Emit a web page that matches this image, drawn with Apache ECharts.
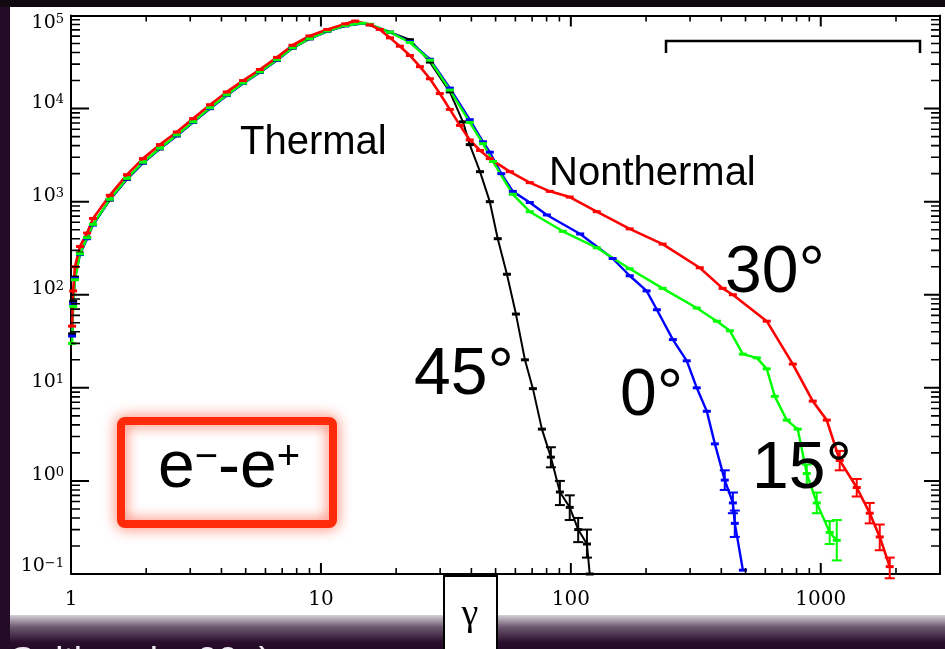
<!DOCTYPE html>
<html>
<head>
<meta charset="utf-8">
<script src="https://cdn.jsdelivr.net/npm/echarts@6/dist/echarts.min.js"></script>
<style>
  html, body { margin: 0; padding: 0; background: #240c26; }
  #chart { width: 945px; height: 649px; }
</style>
</head>
<body>
<div id="chart"></div>
<script>
// Particle spectra dN/dγ of pair-plasma shocks at four field inclinations.

// axis ranges and tick labels
const xRange = [1, 3000];
const yRange = [0.1, 1e5];
const xTickLabels = ['1', '10', '100', '1000'];
const yTickSup = { '-1': '\u22121', '0': '0', '1': '1', '2': '2', '3': '3', '4': '4', '5': '5' };

// [gamma, N] per inclination angle
const curve45 = [
  [1.01, 38], [1.02, 85], [1.037, 155], [1.086, 280], [1.16, 410], [1.225, 570],
  [1.43, 1040], [1.675, 1740], [1.94, 2600], [2.27, 3700], [2.65, 5100], [3.08, 7100],
  [3.6, 10000], [4.2, 13800], [4.88, 18600], [5.7, 24500], [6.67, 33100], [7.7, 44700],
  [9.0, 56200], [10.6, 67600], [12.5, 77600], [14.6, 82000], [15.7, 79400], [18.9, 66100],
  [22.7, 55000], [27.3, 31600], [32.8, 15100], [37, 7200], [39.4, 4100], [43.3, 2100],
  [47.4, 1000], [51, 400], [55.5, 166], [60.3, 62], [65.5, 20], [70.5, 9.8],
  [76.6, 3.6], [83.2, 1.8], [90.4, 0.76], [99, 0.52], [107, 0.30], [116, 0.21], [119, 0.10]
];
const curve0 = [
  [1.01, 36], [1.02, 80], [1.037, 150], [1.086, 270], [1.16, 400], [1.225, 560],
  [1.43, 1050], [1.675, 1750], [1.94, 2600], [2.27, 3700], [2.65, 5100], [3.08, 7100],
  [3.6, 10000], [4.2, 13800], [4.88, 18600], [5.7, 24500], [6.67, 33100], [7.7, 44700],
  [9.0, 56200], [10.6, 67600], [12.5, 77600], [14.6, 82000], [15.7, 80000], [18.9, 66100],
  [22.7, 52500], [27.3, 33900], [32.8, 16600], [39.4, 7600], [44.5, 4400], [47.4, 3400],
  [52.7, 2000], [58.6, 1290], [68.5, 980], [80.2, 720], [109, 450], [147, 245],
  [172, 160], [201, 110], [221, 69], [256, 33], [291, 19.5], [319, 10], [350, 5.6],
  [377, 2.5], [413, 1.02], [445, 0.58], [453, 0.35], [488, 0.11]
];
const curve15 = [
  [1.01, 30], [1.02, 75], [1.037, 145], [1.086, 275], [1.16, 410], [1.225, 570],
  [1.43, 1060], [1.675, 1780], [1.94, 2650], [2.27, 3750], [2.65, 5200], [3.08, 7200],
  [3.6, 10200], [4.2, 14000], [4.88, 18800], [5.7, 24800], [6.67, 33500], [7.7, 45000],
  [9.0, 56500], [10.6, 68000], [12.5, 78000], [14.6, 82500], [15.7, 80500], [18.9, 66100],
  [22.7, 51300], [27.3, 33100], [32.8, 15800], [39.4, 7100], [44.5, 4200], [48.8, 2700],
  [58.6, 1200], [68.5, 780], [92.9, 480], [127, 320], [172, 190], [233, 117],
  [319, 72], [384, 52], [433, 41], [488, 23], [555, 21], [608, 16], [655, 8.1],
  [731, 4.5], [809, 3.6], [879, 1.2], [964, 0.58], [1086, 0.28], [1159, 0.23]
];
const curve30 = [
  [1.01, 46], [1.02, 110], [1.037, 200], [1.086, 330], [1.16, 460], [1.225, 660],
  [1.43, 1170], [1.675, 1950], [1.94, 2900], [2.27, 4100], [2.65, 5600], [3.08, 7800],
  [3.6, 11000], [4.2, 15100], [4.88, 20000], [5.7, 26300], [6.67, 35500], [7.7, 47900],
  [9.0, 60300], [10.6, 70800], [12.5, 81300], [13.7, 87100], [15.7, 79400], [17.2, 70800],
  [18.9, 57500], [20.7, 46800], [22.7, 37200], [24.9, 28200], [27.3, 20900], [29.9, 14500],
  [32.8, 9800], [36.0, 6600], [39.4, 4600], [43.3, 3550], [47.4, 2900], [57, 2100],
  [68.5, 1600], [82.4, 1290], [99, 1120], [127, 780], [172, 510], [233, 350],
  [328, 195], [405, 117], [445, 100], [608, 52], [773, 18], [929, 7.2], [1057, 4.5],
  [1191, 1.66], [1393, 0.85], [1570, 0.45], [1722, 0.25], [1888, 0.12]
];

// [gamma, low, high] error bars on the tails
const err45 = [[83.2, 1.4, 2.3], [90.4, 0.55, 1.0], [99, 0.38, 0.70], [107, 0.22, 0.40], [116, 0.15, 0.30]];
const err0 = [[413, 0.8, 1.3], [445, 0.45, 0.75], [453, 0.25, 0.48]];
const err15 = [[879, 0.9, 1.5], [964, 0.45, 0.75], [1086, 0.21, 0.37], [1159, 0.14, 0.38]];
const err30 = [[1191, 1.3, 2.1], [1393, 0.68, 1.05], [1570, 0.35, 0.58], [1722, 0.18, 0.34], [1888, 0.09, 0.15]];

const colors = { a45: '#000000', a0: '#0000ff', a15: '#00ff00', a30: '#ff0000' };

// plot frame in pixels
const gridBox = { left: 71, top: 13, right: 5, bottom: 75 };
const plotW = 945 - gridBox.left - gridBox.right;
const plotH = 649 - gridBox.top - gridBox.bottom;

// tick values: decades and 2..9 within each decade
function decadeTicks(lo, hi) {
  const out = [];
  for (let d = lo; d <= hi * 1.0000001; d *= 10) out.push(d);
  return out;
}
function minorTicks(lo, hi) {
  const out = [];
  for (let d = lo; d < hi; d *= 10) {
    for (let k = 2; k <= 9; k++) {
      const v = k * d;
      if (v > lo && v < hi) out.push(v);
    }
  }
  return out;
}
const xMajor = decadeTicks(xRange[0], xRange[1]).filter(v => v > xRange[0]);
const yMajor = decadeTicks(yRange[0], yRange[1]).filter(v => v > yRange[0] && v < yRange[1]);
const xMinor = minorTicks(xRange[0], xRange[1]);
const yMinor = minorTicks(yRange[0], yRange[1]);

function isDecade(v) {
  const e = Math.round(Math.log10(v));
  return Math.abs(v - Math.pow(10, e)) < Math.pow(10, e) * 1e-6 ? e : null;
}

const serif = '"DejaVu Serif", "Liberation Serif", serif';
const sans = '"Liberation Sans", Arial, sans-serif';

function lineSeries(name, data, color, width) {
  return {
    name, type: 'line', data, color,
    showSymbol: true, showAllSymbol: true,
    symbol: 'rect', symbolSize: [8, 3],
    lineStyle: { color, width },
    itemStyle: { color },
    silent: true, animation: false
  };
}

function errorSeries(data, color) {
  return {
    type: 'custom', data, silent: true, animation: false, clip: false,
    encode: { x: 0, y: [1, 2] },
    renderItem(params, api) {
      const lo = api.coord([api.value(0), api.value(1)]);
      const hi = api.coord([api.value(0), api.value(2)]);
      const st = { stroke: color, lineWidth: 2 };
      const w = 5;
      return {
        type: 'group', children: [
          { type: 'line', shape: { x1: lo[0], y1: lo[1], x2: hi[0], y2: hi[1] }, style: st },
          { type: 'line', shape: { x1: lo[0] - w, y1: lo[1], x2: lo[0] + w, y2: lo[1] }, style: st },
          { type: 'line', shape: { x1: hi[0] - w, y1: hi[1], x2: hi[0] + w, y2: hi[1] }, style: st }
        ]
      };
    }
  };
}

// frame ticks as short broken line segments in data space
const xDecPerPx = Math.log10(xRange[1] / xRange[0]) / plotW;
const yDecPerPx = Math.log10(yRange[1] / yRange[0]) / plotH;
function tickLine(segments, width) {
  const data = [];
  segments.forEach(s => { data.push(s[0], s[1], ['-', '-']); });
  return {
    type: 'line', data, connectNulls: false, showSymbol: false, symbol: 'none',
    lineStyle: { color: '#000', width }, itemStyle: { color: '#000' },
    silent: true, animation: false, z: 5
  };
}
function xTicks(values, lenPx, width) {
  const f = Math.pow(10, lenPx * yDecPerPx);
  const segs = [];
  values.forEach(v => {
    segs.push([[v, yRange[0]], [v, yRange[0] * f]]);
    segs.push([[v, yRange[1]], [v, yRange[1] / f]]);
  });
  return tickLine(segs, width);
}
function yTicks(values, lenL, lenR, width) {
  const fl = Math.pow(10, lenL * xDecPerPx);
  const fr = Math.pow(10, lenR * xDecPerPx);
  const segs = [];
  values.forEach(v => {
    segs.push([[xRange[0], v], [xRange[0] * fl, v]]);
    segs.push([[xRange[1], v], [xRange[1] / fr, v]]);
  });
  return tickLine(segs, width);
}

function axisLine() { return { show: true, onZero: false, lineStyle: { color: '#000', width: 2 } }; }

const chart = echarts.init(document.getElementById('chart'));

const option = {
  animation: false,
  backgroundColor: '#240c26',
  grid: gridBox,
  xAxis: [
    {
      type: 'log', min: xRange[0], max: xRange[1], position: 'bottom',
      axisLine: axisLine(), axisTick: { show: false }, splitLine: { show: false },
      axisLabel: {
        margin: 16, color: '#000', fontFamily: serif, fontSize: 20,
        formatter: v => { const e = isDecade(v); return e === null ? '' : (xTickLabels[e] || ''); }
      }
    },
    {
      type: 'log', min: xRange[0], max: xRange[1], position: 'top',
      axisLine: axisLine(), axisTick: { show: false }, splitLine: { show: false }, axisLabel: { show: false }
    }
  ],
  yAxis: [
    {
      type: 'log', min: yRange[0], max: yRange[1], position: 'left',
      axisLine: axisLine(), axisTick: { show: false }, splitLine: { show: false },
      axisLabel: {
        margin: 7, color: '#000',
        formatter: v => {
          const e = isDecade(v);
          if (e === null) return '';
          const lbl = '{p| }{b|10}{s|' + yTickSup[String(e)] + '}';
          // keep the end labels inside the frame
          if (e === 5) return '{g| }\n' + lbl;
          if (e === -1) return lbl + '\n{h| }';
          return lbl;
        },
        rich: {
          p: { fontSize: 1, lineHeight: 30 },
          b: { fontFamily: serif, fontSize: 19, color: '#000', lineHeight: 22, verticalAlign: 'top' },
          s: { fontFamily: serif, fontSize: 13, color: '#000', lineHeight: 9, verticalAlign: 'top' },
          g: { fontSize: 1, lineHeight: 26 },
          h: { fontSize: 1, lineHeight: 4 }
        }
      }
    },
    {
      type: 'log', min: yRange[0], max: yRange[1], position: 'right',
      axisLine: axisLine(), axisTick: { show: false }, splitLine: { show: false }, axisLabel: { show: false }
    }
  ],
  series: [
    lineSeries('45°', curve45, colors.a45, 2),
    lineSeries('0°', curve0, colors.a0, 2.4),
    lineSeries('15°', curve15, colors.a15, 2.4),
    lineSeries('30°', curve30, colors.a30, 2.6),
    errorSeries(err45, colors.a45),
    errorSeries(err0, colors.a0),
    errorSeries(err15, colors.a15),
    errorSeries(err30, colors.a30),
    xTicks(xMajor, 11, 2),
    xTicks(xMinor, 6, 1.6),
    yTicks(yMajor, 18, 16, 2),
    yTicks(yMinor, 9, 9, 1.6)
  ],
  graphic: [
    { type: 'rect', z: -20, shape: { x: 0, y: 0, width: 945, height: 7 }, style: { fill: '#12080f' } },
    { type: 'rect', z: -10, shape: { x: 10, y: 7, width: 935, height: 608 }, style: { fill: '#ffffff' } },
    {
      type: 'rect', z: -10, shape: { x: 10, y: 615, width: 935, height: 34 },
      style: { fill: new echarts.graphic.LinearGradient(0, 0, 0, 1, [
        { offset: 0, color: '#d6d0d8' }, { offset: 0.35, color: '#6e5a70' }, { offset: 0.8, color: '#2a0e2c' }, { offset: 1, color: '#260b28' }
      ]) }
    },
    { type: 'text', z: 50, x: 10, y: 644, style: { text: 'Spitkovsky 09a)', font: '37px ' + sans, fill: '#eee8ef', align: 'left', verticalAlign: 'top' } },

    // bracket over the nonthermal range
    { type: 'polyline', z: 50, shape: { points: [[666, 53], [666, 41], [920, 41], [920, 53]] }, style: { stroke: '#000', lineWidth: 2.5, fill: null } },

    // region and angle annotations
    { type: 'text', z: 50, x: 240, y: 143, style: { text: 'Thermal', font: '40px ' + sans, fill: '#000', align: 'left', verticalAlign: 'middle' } },
    { type: 'text', z: 50, x: 549, y: 174, style: { text: 'Nonthermal', font: '40px ' + sans, fill: '#000', align: 'left', verticalAlign: 'middle' } },
    { type: 'text', z: 50, x: 725, y: 274, style: { text: '30°', font: '66px ' + sans, fill: '#000', align: 'left', verticalAlign: 'middle' } },
    { type: 'text', z: 50, x: 414, y: 376, style: { text: '45°', font: '66px ' + sans, fill: '#000', align: 'left', verticalAlign: 'middle' } },
    { type: 'text', z: 50, x: 620, y: 397, style: { text: '0°', font: '66px ' + sans, fill: '#000', align: 'left', verticalAlign: 'middle' } },
    { type: 'text', z: 50, x: 752, y: 470, style: { text: '15°', font: '66px ' + sans, fill: '#000', align: 'left', verticalAlign: 'middle' } },

    // pair-plasma tag
    {
      type: 'rect', z: 50, shape: { x: 121, y: 421, width: 212, height: 103, r: 4 },
      style: { fill: 'rgba(255,255,255,0)', stroke: '#ff2a0a', lineWidth: 8, shadowBlur: 14, shadowColor: 'rgba(255,70,40,0.85)' }
    },
    {
      type: 'text', z: 51, x: 229, y: 470,
      style: {
        text: '{b|e}{s|\u2212}{b|-e}{s|+}', align: 'center', verticalAlign: 'middle',
        rich: {
          b: { font: '66px ' + sans, fill: '#000', lineHeight: 64, verticalAlign: 'bottom' },
          s: { font: '40px ' + sans, fill: '#000', lineHeight: 40, verticalAlign: 'top' }
        }
      }
    },

    // x-axis title box
    { type: 'rect', z: 60, shape: { x: 444, y: 576, width: 53, height: 90 }, style: { fill: '#ffffff', stroke: '#000', lineWidth: 2 } },
    { type: 'text', z: 61, x: 470, y: 615, style: { text: '\u03b3', font: '38px "Liberation Serif", serif', fill: '#000', align: 'center', verticalAlign: 'middle' } }
  ]
};

chart.setOption(option);
</script>
</body>
</html>
